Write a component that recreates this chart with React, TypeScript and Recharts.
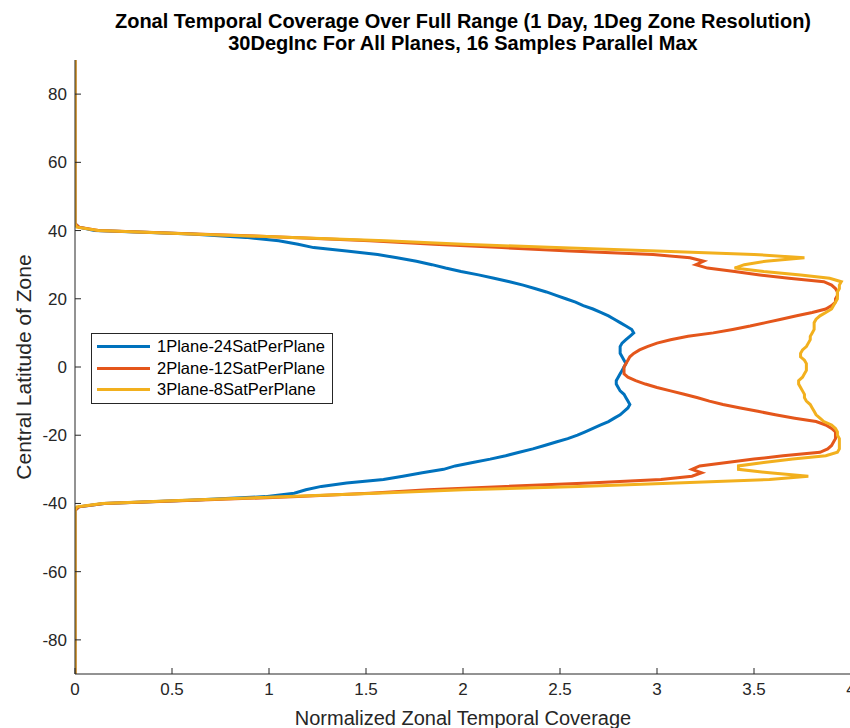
import { LineChart, Line, XAxis, YAxis, Legend } from "recharts";

// zone centre latitudes (deg); everything beyond +/-42 sits at zero coverage
const latitudes = [
  90, 42, 41, 40, 39, 38, 37, 36, 35, 34, 33, 32, 31, 30, 29, 28, 27, 26, 25, 24, 23, 22,
  21, 20, 19, 18, 17, 16, 15, 14, 13, 12, 11, 10, 9, 8, 7, 6, 5, 4, 3, 2, 1, 0,
  -1, -2, -3, -4, -5, -6, -7, -8, -9, -10, -11, -12, -13, -14, -15, -16, -17, -18, -19, -20,
  -21, -22, -23, -24, -25, -26, -27, -28, -29, -30, -31, -32, -33, -34, -35, -36, -37, -38,
  -39, -40, -41, -42, -90,
];

const plane1Sat24 = [
  0, 0, 0.02, 0.1, 0.6, 0.88, 1.05, 1.15, 1.23, 1.4, 1.56, 1.66, 1.76, 1.84, 1.91, 1.99, 2.08, 2.16,
  2.24, 2.31, 2.37, 2.43, 2.48, 2.53, 2.58, 2.62, 2.67, 2.71, 2.75, 2.78, 2.81, 2.84, 2.87, 2.88,
  2.86, 2.84, 2.82, 2.81, 2.81, 2.81, 2.82, 2.83, 2.84, 2.83,
  2.82, 2.81, 2.8, 2.79, 2.79, 2.8, 2.81, 2.83, 2.84, 2.85, 2.86, 2.85, 2.83, 2.81, 2.78, 2.75,
  2.71, 2.67, 2.63, 2.59, 2.54, 2.48, 2.42, 2.36, 2.29, 2.22, 2.14, 2.05, 1.96, 1.9, 1.79, 1.69,
  1.59, 1.4, 1.27, 1.19, 1.13, 0.98, 0.62, 0.15, 0.02, 0, 0,
];

const plane2Sat12 = [
  0, 0, 0.02, 0.12, 0.62, 1.12, 1.52, 1.85, 2.2, 2.55, 2.98, 3.17, 3.24, 3.2, 3.26, 3.4, 3.53, 3.68,
  3.86, 3.9, 3.92, 3.93, 3.93, 3.92, 3.92, 3.9, 3.87, 3.8, 3.72, 3.64, 3.56, 3.48, 3.39, 3.29,
  3.16, 3.07, 3.0, 2.95, 2.91, 2.88, 2.86, 2.85, 2.84, 2.83,
  2.83, 2.83, 2.85, 2.89, 2.94, 3.0, 3.07, 3.14, 3.21, 3.27, 3.34, 3.43, 3.52, 3.61, 3.71, 3.82,
  3.87, 3.9, 3.92, 3.92, 3.92, 3.91, 3.9, 3.88, 3.84, 3.65, 3.5, 3.36, 3.22, 3.18, 3.23, 3.18,
  3.02, 2.65, 2.22, 1.82, 1.52, 1.15, 0.65, 0.15, 0.02, 0, 0,
];

const plane3Sat8 = [
  0, 0, 0.01, 0.12, 0.6, 1.12, 1.6, 2.0, 2.48, 3.0, 3.5, 3.76, 3.56, 3.45, 3.4, 3.55, 3.74, 3.89,
  3.95, 3.94, 3.94, 3.93, 3.93, 3.93, 3.92, 3.91, 3.9, 3.87, 3.84, 3.82, 3.81, 3.81, 3.81, 3.8,
  3.79, 3.79, 3.78, 3.77, 3.75, 3.74, 3.74, 3.76, 3.77, 3.77,
  3.77, 3.76, 3.75, 3.73, 3.73, 3.74, 3.75, 3.76, 3.76, 3.77, 3.79, 3.8, 3.81, 3.82, 3.84, 3.86,
  3.9, 3.92, 3.93, 3.93, 3.94, 3.94, 3.94, 3.94, 3.93, 3.87, 3.7, 3.55, 3.42, 3.42, 3.58, 3.78,
  3.58, 3.1, 2.6, 2.0, 1.55, 1.1, 0.6, 0.14, 0.01, 0, 0,
];

const xTicks = [0, 0.5, 1, 1.5, 2, 2.5, 3, 3.5, 4];
const yTicks = [-80, -60, -40, -20, 0, 20, 40, 60, 80];

const FONT = '"Liberation Sans", Arial, Helvetica, sans-serif';
const AXIS = "#262626";

const LegendBox = ({ payload }: any) => (
  <div
    style={{
      border: "1px solid " + AXIS,
      background: "#fff",
      padding: "2px 0 2px 5px",
      fontFamily: FONT,
      fontSize: 16.5,
      color: "#000",
    }}
  >
    {(payload || []).map((p: any) => (
      <div key={p.value} style={{ display: "flex", alignItems: "center", height: 21.5 }}>
        <span style={{ display: "inline-block", width: 53, height: 3, background: p.color, marginRight: 7 }} />
        <span>{p.value}</span>
      </div>
    ))}
  </div>
);

export default function App() {
  const data = latitudes.map((lat, i) => ({
    lat,
    p1: plane1Sat24[i],
    p2: plane2Sat12[i],
    p3: plane3Sat8[i],
  }));

  return (
    <div
      style={{
        position: "fixed",
        left: 0,
        top: 0,
        width: 850,
        height: 728,
        overflow: "hidden",
        background: "#fff",
        fontFamily: FONT,
      }}
    >
      <div
        style={{
          position: "absolute",
          left: 75,
          width: 776,
          top: 10,
          textAlign: "center",
          fontWeight: "bold",
          fontSize: 20,
          lineHeight: "22px",
          color: "#000",
        }}
      >
        Zonal Temporal Coverage Over Full Range (1 Day, 1Deg Zone Resolution)
        <br />
        30DegInc For All Planes, 16 Samples Parallel Max
      </div>
      <LineChart
        width={860}
        height={728}
        data={data}
        layout="vertical"
        margin={{ top: 60, right: 9, bottom: 2, left: 15 }}
      >
        <XAxis
          type="number"
          domain={[0, 4]}
          ticks={xTicks}
          height={52}
          tickSize={-6}
          tickMargin={15}
          axisLine={{ stroke: AXIS }}
          tickLine={{ stroke: AXIS }}
          tick={{ fill: AXIS, fontSize: 17, fontFamily: FONT }}
          allowDataOverflow
          label={{
            value: "Normalized Zonal Temporal Coverage",
            position: "insideBottom",
            offset: 1,
            fill: AXIS,
            fontSize: 20,
            fontFamily: FONT,
          }}
        />
        <YAxis
          type="number"
          dataKey="lat"
          domain={[-90, 90]}
          ticks={yTicks}
          reversed
          width={60}
          tickSize={-6}
          tickMargin={14}
          axisLine={{ stroke: AXIS }}
          tickLine={{ stroke: AXIS }}
          tick={{ fill: AXIS, fontSize: 17, fontFamily: FONT }}
          allowDataOverflow
          label={{
            value: "Central Latitude of Zone",
            angle: -90,
            position: "insideLeft",
            offset: 9,
            fill: AXIS,
            fontSize: 21,
            fontFamily: FONT,
            style: { textAnchor: "middle" },
          }}
        />
        <Legend
          layout="vertical"
          align="center"
          verticalAlign="middle"
          content={<LegendBox />}
          wrapperStyle={{ left: 91, top: 333, width: 242 }}
        />
        <Line
          dataKey="p1"
          name="1Plane-24SatPerPlane"
          stroke="#0072BD"
          strokeWidth={3}
          dot={false}
          type="linear"
          isAnimationActive={false}
        />
        <Line
          dataKey="p2"
          name="2Plane-12SatPerPlane"
          stroke="#E4561B"
          strokeWidth={3}
          dot={false}
          type="linear"
          isAnimationActive={false}
        />
        <Line
          dataKey="p3"
          name="3Plane-8SatPerPlane"
          stroke="#F2B01E"
          strokeWidth={3}
          dot={false}
          type="linear"
          isAnimationActive={false}
        />
      </LineChart>
    </div>
  );
}
